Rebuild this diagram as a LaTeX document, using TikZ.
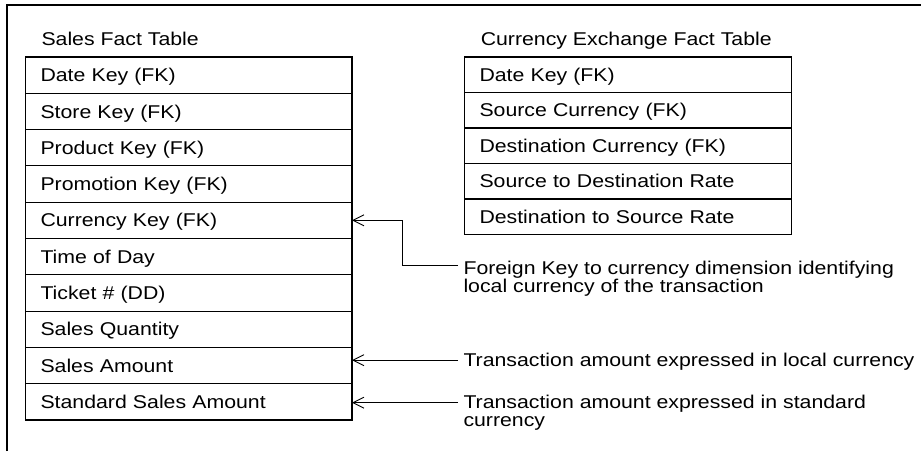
\documentclass[tikz,border=0pt]{standalone}
\usepackage{fontspec}
\setmainfont{Liberation Sans}[FakeStretch=1.15]
\usetikzlibrary{arrows.meta}
\begin{document}
\begin{tikzpicture}[x=1pt,y=-1pt,
  every node/.style={font=\fontsize{18.5}{18}\selectfont, inner sep=0pt, outer sep=0pt},
  srow/.style={draw, line width=1.1pt, anchor=north west, minimum height=36.3pt,
    inner xsep=15pt, text width=296.5pt, align=left, text height=13.2pt, text depth=0pt},
  crow/.style={draw, line width=1.1pt, anchor=north west, minimum height=35.5pt,
    inner xsep=15pt, text width=297pt, align=left, text height=13.2pt, text depth=0pt},
  arr/.style={line width=0.9pt, -{Straight Barb[length=11pt,width=11pt]}}]
\useasboundingbox (0,0) rectangle (921,451);
% frame
\draw[line width=1.1pt] (7,451) -- (7,5) -- (921,5);
% titles
\node[anchor=base west] (st) at (41.5,45) {Sales Fact Table};
\node[anchor=base west] (ct) at (480.8,45) {Currency Exchange Fact Table};
% sales table
\foreach \t [count=\i] in {Date Key (FK), Store Key (FK), Product Key (FK), Promotion Key (FK),
  Currency Key (FK), Time of Day, Ticket \# (DD), Sales Quantity, Sales Amount, Standard Sales Amount}
  \node[srow] (s\i) at (25.5,{57+(\i-1)*36.3}) {\t};
% currency table
\foreach \t [count=\i] in {Date Key (FK), Source Currency (FK), Destination Currency (FK),
  Source to Destination Rate, Destination to Source Rate}
  \node[crow] (c\i) at (464.5,{57+(\i-1)*35.5}) {\t};
% notes
\node[anchor=north west, align=left] (n1) at (463.5,261.5)
  {Foreign Key to currency dimension identifying\\local currency of the transaction};
\node[anchor=north west] (n2) at (463.5,353.5)
  {Transaction amount expressed in local currency};
\node[anchor=north west, align=left] (n3) at (463.5,395)
  {Transaction amount expressed in standard\\currency};
% connectors
\coordinate (kink) at (402,0);
\coordinate (a1) at ([shift={(-5.5pt,-3.5pt)}]n1.north west);
\coordinate (a2) at ([shift={(-5.5pt,-6.7pt)}]n2.north west);
\coordinate (a3) at ([shift={(-5.5pt,-7.7pt)}]n3.north west);
\draw[arr] (a1) -- (a1 -| kink) |- (s5.east);
\draw[arr] (a2) -- (a2 -| s9.east);
\draw[arr] (a3) -- (a3 -| s10.east);
\end{tikzpicture}
\end{document}
